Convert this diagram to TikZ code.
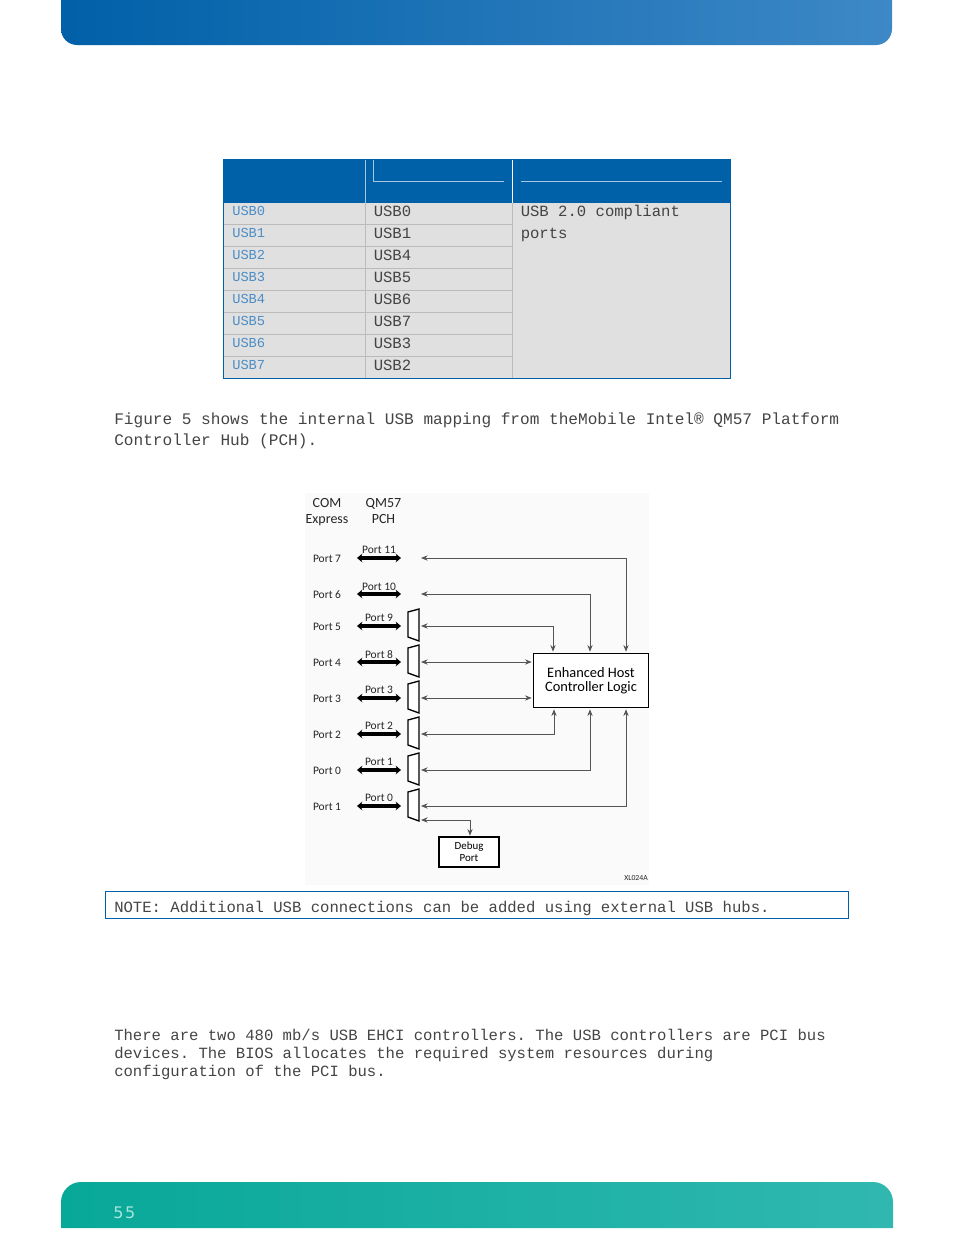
\documentclass[tikz,border=0pt]{standalone}
\usepackage{fontspec}
\setmainfont{Liberation Serif}
\setmonofont{Liberation Mono}
\newfontfamily\figfont{Carlito}
\newfontfamily\pagefont[LetterSpace=10]{DejaVu Sans}
\usetikzlibrary{arrows.meta}
\definecolor{tblblue}{HTML}{0060A8}
\definecolor{topmid}{HTML}{0E76BE}
\definecolor{topright}{HTML}{3E88C6}
\definecolor{footleft}{HTML}{08A898}
\definecolor{footright}{HTML}{30B8B0}
\definecolor{pagenum}{HTML}{A8E4DC}
\definecolor{tblgrey}{HTML}{E0E0E0}
\definecolor{tblrule}{HTML}{BBBBBB}
\definecolor{tbllink}{HTML}{4C8DC6}
\definecolor{bodyink}{HTML}{444444}
\definecolor{wireink}{HTML}{555555}
\tikzset{
  bodytext/.style={anchor=base west,inner sep=0pt,text=bodyink,font=\ttfamily\fontsize{11.7}{14}\selectfont},
  widetext/.style={bodytext,font=\ttfamily\fontsize{12.08}{14}\selectfont},
  usblink/.style={anchor=base west,inner sep=0pt,text=tbllink,font=\ttfamily\fontsize{10.3}{12}\selectfont},
  portname/.style={inner sep=0pt,text=black!85,font=\figfont\fontsize{8.6}{10}\selectfont},
  headname/.style={inner sep=0pt,align=center,text=black!85,font=\figfont\fontsize{10.5}{12}\selectfont},
  muxline/.style={draw,line width=1pt,fill=white},
  bus/.style={line width=2.3pt,{Stealth[length=4pt,width=6.5pt]}-{Stealth[length=4pt,width=6.5pt]}},
  wirejoin/.style={draw=wireink,line width=.6pt,shorten >=1pt,{Stealth[length=5pt,width=4pt]}-{Stealth[length=5pt,width=4pt]}},
  hostbox/.style={draw,line width=.9pt,fill=white,inner sep=0pt,align=center}
}
\newcommand{\muxat}[2]{
  \coordinate (#1) at (419,#2);
  \draw[muxline] (419,#2-16) -- (408,#2-13) -- (408,#2+12) -- (419,#2+16) -- cycle;
}
\begin{document}
\begin{tikzpicture}[x=0.75pt,y=-0.75pt]
\useasboundingbox (0,0) rectangle (954,1235);
% page bars
\shade[left color=tblblue,middle color=topmid,right color=topright] (61,0) {[rounded corners=12pt] -- (61,45) -- (892,45)} -- (892,0) -- cycle;
\shade[left color=footleft,right color=footright] (61,1228) {[rounded corners=15pt] -- (61,1182) -- (893,1182)} -- (893,1228) -- cycle;
\node[anchor=base west,inner sep=0pt,text=pagenum,font=\pagefont\fontsize{12}{14}\selectfont] (pageno) at (113,1218) {55};

% table
\fill[tblgrey] (223,203) rectangle (730.5,378.5);
\fill[tblblue] (223,159) rectangle (730.5,203);
\draw[tblrule] (223,224.5) -- (512,224.5) (223,246.5) -- (512,246.5) (223,268.5) -- (512,268.5) (223,290.5) -- (512,290.5)
  (223,312.5) -- (512,312.5) (223,334.5) -- (512,334.5) (223,356.5) -- (512,356.5);
\draw[tblrule] (365,203) -- (365,378.5) (512,203) -- (512,378.5);
\draw[white!65!tblblue,line width=.3pt] (365,160) -- (365,203) (373,160) -- (373,181) -- (504,181) (521,181) -- (722,181);
\draw[white,line width=.6pt] (512,160) -- (512,203);
\draw[tblblue,line width=.65pt] (223,159) rectangle (730.5,378.5);

\node[usblink] (L0) at (232,215) {USB0};
\node[usblink] (L1) at (232,237) {USB1};
\node[usblink] (L2) at (232,259) {USB2};
\node[usblink] (L3) at (232,281) {USB3};
\node[usblink] (L4) at (232,303) {USB4};
\node[usblink] (L5) at (232,325) {USB5};
\node[usblink] (L6) at (232,347) {USB6};
\node[usblink] (L7) at (232,369) {USB7};

\node[bodytext] (R0) at (373.5,216) {USB0};
\node[bodytext] (R1) at (373.5,238) {USB1};
\node[bodytext] (R2) at (373.5,260) {USB4};
\node[bodytext] (R3) at (373.5,282) {USB5};
\node[bodytext] (R4) at (373.5,304) {USB6};
\node[bodytext] (R5) at (373.5,326) {USB7};
\node[bodytext] (R6) at (373.5,348) {USB3};
\node[bodytext] (R7) at (373.5,370) {USB2};
\node[bodytext] (C0) at (520.5,216) {USB 2.0 compliant};
\node[bodytext] (C1) at (520.5,238) {ports};

% running text
\node[widetext] (T0) at (114,424) {Figure 5 shows the internal USB mapping from theMobile Intel® QM57 Platform};
\node[widetext] (T1) at (114,445) {Controller Hub (PCH).};
\draw[tblblue,line width=.65pt] (105,891) rectangle (848.5,918);
\node[bodytext] (note) at (114,912) {NOTE: Additional USB connections can be added using external USB hubs.};
\node[bodytext] (T2) at (114,1040) {There are two 480 mb/s USB EHCI controllers. The USB controllers are PCI bus};
\node[bodytext] (T3) at (114,1058) {devices. The BIOS allocates the required system resources during};
\node[bodytext] (T4) at (114,1076) {configuration of the PCI bus.};

% figure
\fill[black!2] (305,493) rectangle (649,885);
\node[headname] (com) at (327,512.5) {COM\\Express};
\node[headname] (pch) at (383.5,510.5) {QM57\\PCH};

% rows
\node[portname] (P7) at (327,559) {Port 7};
\node[portname] (P6) at (327,595) {Port 6};
\node[portname] (P5) at (327,627) {Port 5};
\node[portname] (P4) at (327,663) {Port 4};
\node[portname] (P3) at (327,699) {Port 3};
\node[portname] (P2) at (327,735) {Port 2};
\node[portname] (P1) at (327,771) {Port 0};
\node[portname] (P0) at (327,807) {Port 1};

\node[portname] (H11) at (379,549.5) {Port 11};
\node[portname] (H10) at (379,586.5) {Port 10};
\node[portname] (H9) at (379,617.5) {Port 9};
\node[portname] (H8) at (379,654.5) {Port 8};
\node[portname] (H3) at (379,689.5) {Port 3};
\node[portname] (H2) at (379,725.5) {Port 2};
\node[portname] (H1) at (379,761.5) {Port 1};
\node[portname] (H0) at (379,797.5) {Port 0};

\coordinate (A7) at (357,558);
\coordinate (B7) at (401,558);
\coordinate (A6) at (357,594);
\coordinate (B6) at (401,594);
\coordinate (A5) at (357,626);
\coordinate (B5) at (401,626);
\coordinate (A4) at (357,662);
\coordinate (B4) at (401,662);
\coordinate (A3) at (357,698);
\coordinate (B3) at (401,698);
\coordinate (A2) at (357,734);
\coordinate (B2) at (401,734);
\coordinate (A1) at (357,770);
\coordinate (B1) at (401,770);
\coordinate (A0) at (357,806);
\coordinate (B0) at (401,806);
\draw[bus] (A7) -- (B7);
\draw[bus] (A6) -- (B6);
\draw[bus] (A5) -- (B5);
\draw[bus] (A4) -- (B4);
\draw[bus] (A3) -- (B3);
\draw[bus] (A2) -- (B2);
\draw[bus] (A1) -- (B1);
\draw[bus] (A0) -- (B0);

% muxes
\muxat{M5}{625}
\muxat{M4}{661}
\muxat{M3}{697}
\muxat{M2}{733}
\muxat{M1}{769}
\muxat{M0}{805}

% host controller
\node[hostbox,minimum width=86.5pt,minimum height=41pt,font=\figfont\fontsize{10.8}{11}\selectfont] (EHC) at (591,680.5) {\raisebox{-1.5pt}{Enhanced Host}\\\raisebox{-1pt}{Controller Logic}};
\node[hostbox,minimum width=45pt,minimum height=22.5pt,font=\figfont\fontsize{8.2}{9}\selectfont] (debug) at (469,852) {Debug\\Port};
\node[inner sep=0pt,text=black!85,font=\figfont\fontsize{5.8}{6}\selectfont] (code) at (636,878) {XL024A};

\coordinate (N7) at (421,558);
\coordinate (N6) at (421,594);
\coordinate (N5) at (421,626);
\coordinate (N4) at (421,662);
\coordinate (N3) at (421,698);
\coordinate (N2) at (421,734);
\coordinate (N1) at (421,770);
\coordinate (N0) at (421,806);
\coordinate (ND) at (421,820);
\coordinate (E5) at (553,653);
\coordinate (E6) at (590,653);
\coordinate (E7) at (626,653);
\coordinate (E2) at (554,708);
\coordinate (E1) at (590,708);
\coordinate (E0) at (626,708);
\coordinate (E4) at (533,662);
\coordinate (E3) at (533,698);
\coordinate (DT) at (470,837);

\draw[wirejoin] (N7) -| (E7);
\draw[wirejoin] (N6) -| (E6);
\draw[wirejoin] (N5) -| (E5);
\draw[wirejoin] (N4) -- (E4);
\draw[wirejoin] (N3) -- (E3);
\draw[wirejoin] (N2) -| (E2);
\draw[wirejoin] (N1) -| (E1);
\draw[wirejoin] (N0) -| (E0);
\draw[wirejoin] (ND) -| (DT);
\end{tikzpicture}
\end{document}
